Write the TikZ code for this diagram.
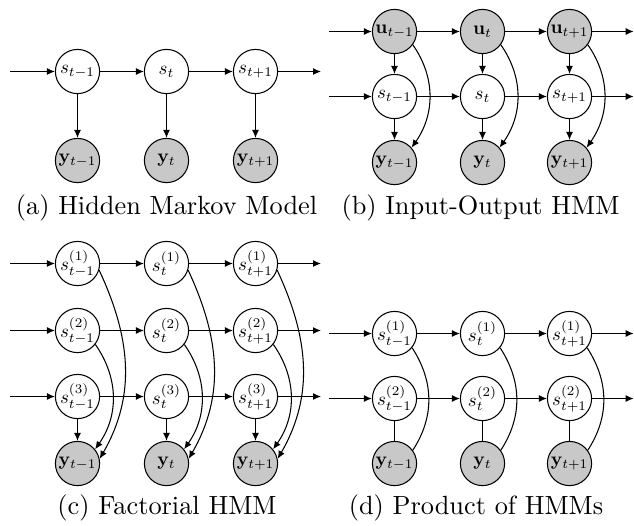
\documentclass[tikz,border=0pt]{standalone}
\usepackage{graphicx}
\usetikzlibrary{arrows.meta}
\definecolor{obsgray}{RGB}{200,200,200}
\newcommand{\nodetxt}[1]{\scalebox{0.72}{$#1$}}
\begin{document}
\begin{tikzpicture}[x=0.38pt,y=-0.38pt,
  hid/.style={circle,draw,line width=0.4pt,minimum size=16.8pt,inner sep=0pt,fill=white},
  obs/.style={hid,fill=obsgray},
  arr/.style={line width=0.4pt,-{Latex[length=3pt,width=2.6pt]}},
  lnk/.style={line width=0.4pt},
  captext/.style={font=\normalsize,anchor=base,inner sep=0pt}]
\useasboundingbox (0,0) rectangle (634,525);
% ---------------- (a) Hidden Markov Model
\foreach \i/\x/\s in {1/77.5/t-1,2/166.5/t,3/255.5/t+1}{
  \node[hid] (as\i) at (\x,71.5) {\nodetxt{s_{\s}}};
  \node[obs] (ay\i) at (\x,160.5) {\nodetxt{\mathbf{y}_{\s}}};
  \draw[arr] (as\i) -- (ay\i);
}
\coordinate (ain) at (10,71.5);
\coordinate (aout) at (321,71.5);
\draw[arr] (ain) -- (as1);
\draw[arr] (as1) -- (as2);
\draw[arr] (as2) -- (as3);
\draw[arr] (as3) -- (aout);
\node[captext] (capa) at (166.5,214) {(a) Hidden Markov Model};
% ---------------- (b) Input-Output HMM
\foreach \i/\x/\s in {1/394.5/t-1,2/482.5/t,3/569.5/t+1}{
  \node[obs] (bu\i) at (\x,31.5) {\nodetxt{\mathbf{u}_{\s}}};
  \node[hid] (bs\i) at (\x,96.5) {\nodetxt{s_{\s}}};
  \node[obs] (by\i) at (\x,162.5) {\nodetxt{\mathbf{y}_{\s}}};
  \draw[arr] (bu\i) -- (bs\i);
  \draw[arr] (bs\i) -- (by\i);
  \draw[arr] (bu\i.-36) to[out=-55,in=55] (by\i.41);
}
\coordinate (buin) at (329,31.5);
\coordinate (buout) at (633.6,31.5);
\coordinate (bsin) at (329,96.5);
\coordinate (bsout) at (633.6,96.5);
\draw[arr] (buin) -- (bu1);
\draw[arr] (bu1) -- (bu2);
\draw[arr] (bu2) -- (bu3);
\draw[arr] (bu3) -- (buout);
\draw[arr] (bsin) -- (bs1);
\draw[arr] (bs1) -- (bs2);
\draw[arr] (bs2) -- (bs3);
\draw[arr] (bs3) -- (bsout);
\node[captext] (capb) at (480.5,214) {(b) Input-Output HMM};
% ---------------- (c) Factorial HMM
\foreach \i/\x/\s in {1/77.5/t-1,2/166.5/t,3/255.5/t+1}{
  \node[hid] (ca\i) at (\x,263.5) {\nodetxt{s^{(1)}_{\s}}};
  \node[hid] (cb\i) at (\x,330.5) {\nodetxt{s^{(2)}_{\s}}};
  \node[hid] (cc\i) at (\x,396.5) {\nodetxt{s^{(3)}_{\s}}};
  \node[obs] (cy\i) at (\x,463.5) {\nodetxt{\mathbf{y}_{\s}}};
  \draw[arr] (cc\i) -- (cy\i);
  \draw[arr] (ca\i.-17) to[out=-65,in=60] (cy\i.12);
  \draw[arr] (cb\i.-38) to[out=-55,in=55] (cy\i.39);
}
\foreach \r/\y in {a/263.5,b/330.5,c/396.5}{
  \coordinate (cin\r) at (10,\y);
  \coordinate (cout\r) at (321,\y);
  \draw[arr] (cin\r) -- (c\r1);
  \draw[arr] (c\r1) -- (c\r2);
  \draw[arr] (c\r2) -- (c\r3);
  \draw[arr] (c\r3) -- (cout\r);
}
\node[captext] (capc) at (167,514) {(c) Factorial HMM};
% ---------------- (d) Product of HMMs
\foreach \i/\x/\s in {1/394.5/t-1,2/482.5/t,3/569.5/t+1}{
  \node[hid] (da\i) at (\x,333.5) {\nodetxt{s^{(1)}_{\s}}};
  \node[hid] (db\i) at (\x,398.5) {\nodetxt{s^{(2)}_{\s}}};
  \node[obs] (dy\i) at (\x,463.5) {\nodetxt{\mathbf{y}_{\s}}};
  \draw[lnk] (db\i) -- (dy\i);
  \draw[lnk] (da\i.-39) to[out=-57,in=57] (dy\i.36);
}
\foreach \r/\y in {a/333.5,b/398.5}{
  \coordinate (din\r) at (329,\y);
  \coordinate (dout\r) at (633.6,\y);
  \draw[arr] (din\r) -- (d\r1);
  \draw[arr] (d\r1) -- (d\r2);
  \draw[arr] (d\r2) -- (d\r3);
  \draw[arr] (d\r3) -- (dout\r);
}
\node[captext] (capd) at (476,514) {(d) Product of HMMs};
\end{tikzpicture}
\end{document}
